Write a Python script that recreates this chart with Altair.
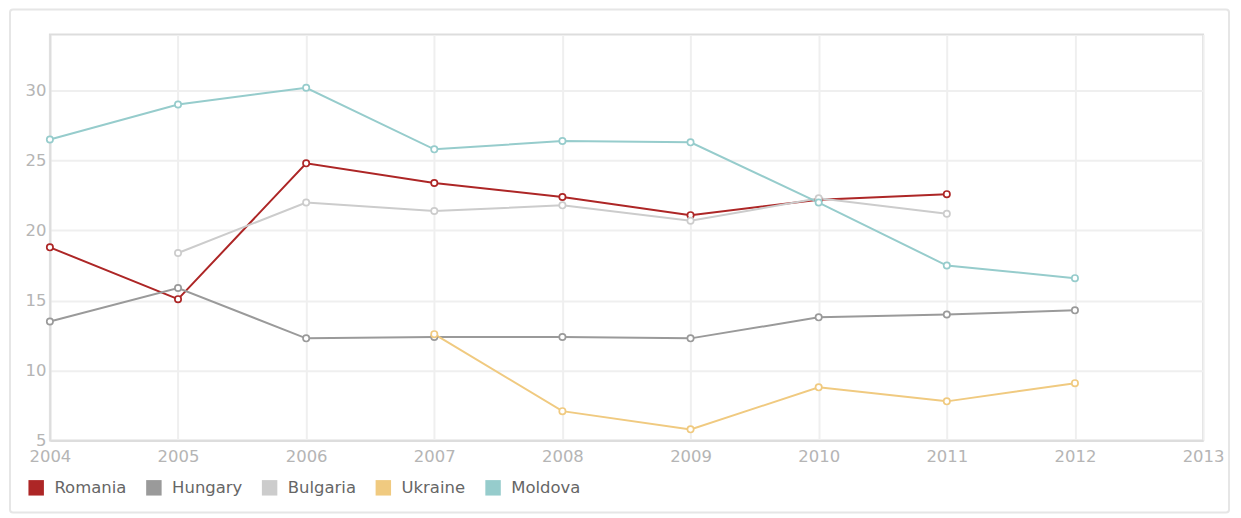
import altair as alt
import pandas as pd

years = [2004, 2005, 2006, 2007, 2008, 2009, 2010, 2011, 2012]
countries = ["Romania", "Hungary", "Bulgaria", "Ukraine", "Moldova"]
colors = ["#ad2626", "#9a9a9a", "#cccccc", "#f0ca80", "#96cccc"]

romania = [18.8, 15.1, 24.8, 23.4, 22.4, 21.1, 22.2, 22.6, None]
hungary = [13.5, 15.9, 12.3, 12.4, 12.4, 12.3, 13.8, 14.0, 14.3]
bulgaria = [None, 18.4, 22.0, 21.4, 21.8, 20.7, 22.3, 21.2, None]
ukraine = [None, None, None, 12.6, 7.1, 5.8, 8.8, 7.8, 9.1]
moldova = [26.5, 29.0, 30.2, 25.8, 26.4, 26.3, 22.0, 17.5, 16.6]

x_ticks = [2004, 2005, 2006, 2007, 2008, 2009, 2010, 2011, 2012, 2013]
y_ticks = [5, 10, 15, 20, 25, 30]

series = dict(zip(countries, [romania, hungary, bulgaria, ukraine, moldova]))
rows = []
for c in countries:
    for yr, v in zip(years, series[c]):
        if v is not None:
            rows.append({"year": yr, "value": v, "country": c})
df = pd.DataFrame(rows)

font = "DejaVu Sans"

xenc = alt.X("year:Q",
             scale=alt.Scale(domain=[2004, 2013], nice=False, zero=False),
             axis=alt.Axis(values=x_ticks, format="d", title=None, grid=True,
                           gridColor="#efefef", gridWidth=2, ticks=False,
                           labelPadding=8, labelFontSize=16.5, labelColor="#b5b5b5",
                           labelFont=font, domainColor="#dddddd", domainWidth=2,
                           labelOverlap=False, labelFlush=False))
yenc = alt.Y("value:Q",
             scale=alt.Scale(domain=[5, 34], nice=False, zero=False),
             axis=alt.Axis(values=y_ticks, title=None, grid=True,
                           gridColor="#efefef", gridWidth=2, ticks=False,
                           labelPadding=4, labelFontSize=16.5, labelColor="#b5b5b5",
                           labelFont=font, domainColor="#dddddd", domainWidth=2,
                           labelOverlap=False, labelFlush=False))
cscale = alt.Scale(domain=countries, range=colors)

frame = alt.Chart(pd.DataFrame({"a": [0]})).mark_rect(
    fill="transparent", stroke="#e6e6e6", strokeWidth=2, cornerRadius=3
).encode(
    x=alt.value(-40), x2=alt.value(1182), y=alt.value(-25), y2=alt.value(479)
)

legend_layer = alt.Chart(df).mark_square(opacity=0, filled=True).encode(
    x=xenc, y=yenc,
    fill=alt.Fill("country:N", scale=cscale, sort=countries,
                  legend=alt.Legend(title=None, orient="none", direction="horizontal",
                                    legendX=-22, legendY=446, symbolType="square",
                                    symbolSize=240, symbolStrokeWidth=0,
                                    symbolOpacity=1, labelFontSize=16.5,
                                    labelFont=font, labelColor="#666666",
                                    labelOffset=10, columnPadding=19, padding=0)),
)

lines = alt.Chart(df).mark_line(
    strokeWidth=2,
    point=alt.OverlayMarkDef(filled=False, fill="white", size=40, strokeWidth=1.7),
).encode(
    x=xenc, y=yenc,
    color=alt.Color("country:N", scale=cscale, sort=countries, legend=None),
    detail="country:N",
)

chart = alt.layer(frame, legend_layer, lines).properties(
    width=1156, height=407,
    padding={"left": 42, "top": 26, "right": 30, "bottom": 77},
    autosize=alt.AutoSizeParams(type="none"),
).resolve_scale(color="independent", fill="independent").configure_view(
    stroke="#dddddd", strokeWidth=2)

chart.save("out.html", embed_options={"renderer": "svg", "actions": False})
